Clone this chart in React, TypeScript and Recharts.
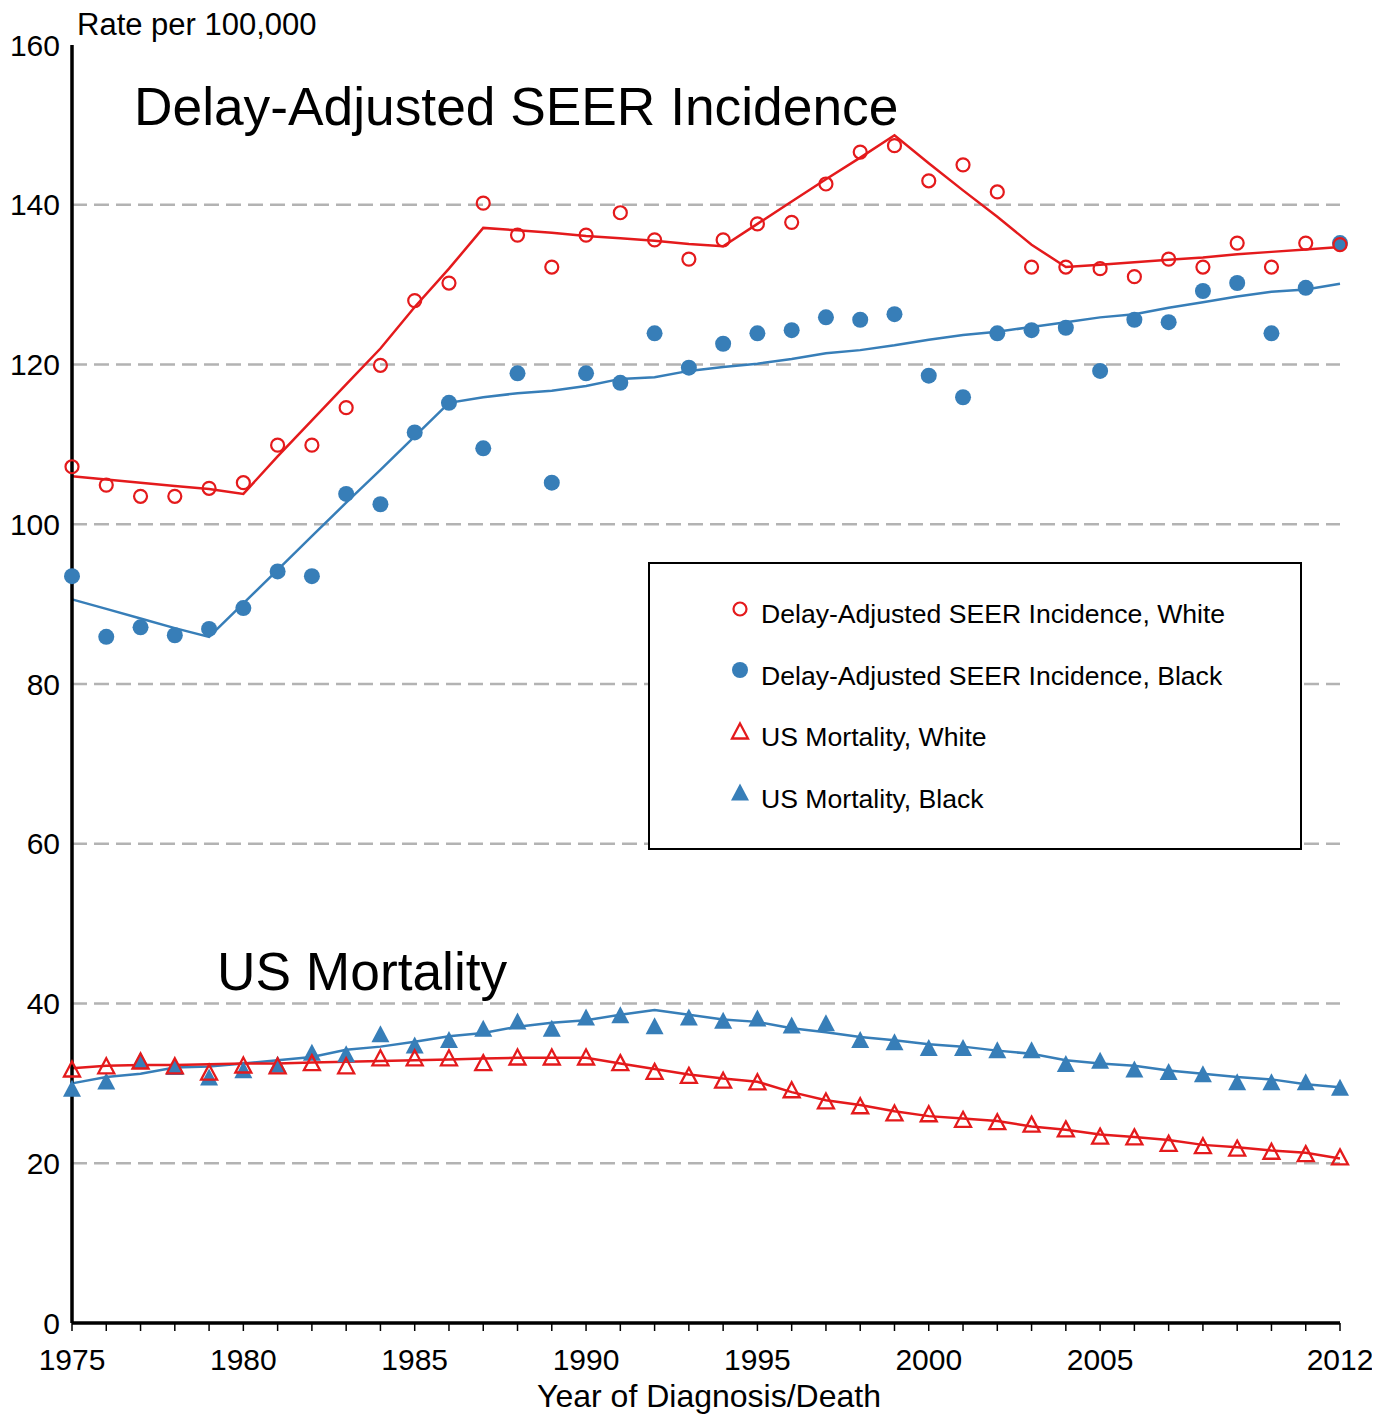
import { ComposedChart, Customized, Legend, Line, ReferenceLine, Scatter, XAxis, YAxis } from "recharts";

const RED = "#e41a1c";
const BLUE = "#377eb8";
const FONT = "'Liberation Sans', Arial, sans-serif";

const years = [
  1975, 1976, 1977, 1978, 1979, 1980, 1981, 1982, 1983, 1984, 1985, 1986, 1987, 1988, 1989, 1990, 1991, 1992, 1993,
  1994, 1995, 1996, 1997, 1998, 1999, 2000, 2001, 2002, 2003, 2004, 2005, 2006, 2007, 2008, 2009, 2010, 2011, 2012,
];
const labelYears = [1975, 1980, 1985, 1990, 1995, 2000, 2005, 2012];
const yTicks = [0, 20, 40, 60, 80, 100, 120, 140, 160];
const gridValues = [20, 40, 60, 80, 100, 120, 140];

// incidence, white
const whiteIncObs = [
  107.2, 104.9, 103.5, 103.5, 104.5, 105.2, 109.9, 109.9, 114.6, 119.9, 128.0, 130.2, 140.2, 136.2, 132.2, 136.2, 139.0,
  135.6, 133.2, 135.6, 137.6, 137.8, 142.6, 146.6, 147.4, 143.0, 145.0, 141.6, 132.2, 132.2, 132.0, 131.0, 133.2, 132.2,
  135.2, 132.2, 135.2, 135.0,
];
const whiteIncFit = [
  106.0, 105.6, 105.2, 104.8, 104.4, 103.8, 108.5, 113.0, 117.5, 122.0, 127.2, 132.0, 137.1, 136.8, 136.5, 136.1, 135.8,
  135.5, 135.1, 134.8, 137.6, 140.4, 143.2, 145.9, 148.7, 145.2, 141.8, 138.5, 135.0, 132.2, 132.5, 132.8, 133.1, 133.4,
  133.8, 134.1, 134.4, 134.7,
];
// incidence, black
const blackIncObs = [
  93.5, 85.9, 87.1, 86.1, 86.9, 89.5, 94.1, 93.5, 103.8, 102.5, 111.5, 115.2, 109.5, 118.9, 105.2, 118.9, 117.7, 123.9,
  119.6, 122.6, 123.9, 124.3, 125.9, 125.6, 126.3, 118.6, 115.9, 123.9, 124.3, 124.6, 119.2, 125.6, 125.3, 129.2, 130.2,
  123.9, 129.6, 135.2,
];
const blackIncFit = [
  90.6, 89.4, 88.2, 87.0, 85.9, 90.1, 94.3, 98.5, 102.7, 106.8, 111.0, 115.2, 115.9, 116.4, 116.7, 117.3, 118.2, 118.4,
  119.2, 119.7, 120.1, 120.7, 121.4, 121.8, 122.4, 123.1, 123.7, 124.1, 124.7, 125.3, 125.9, 126.3, 127.1, 127.8, 128.5,
  129.1, 129.4, 130.1,
];
// mortality, white
const whiteMortObs = [
  31.8, 32.2, 32.8, 32.2, 31.4, 32.3, 32.2, 32.6, 32.2, 33.2, 33.2, 33.2, 32.6, 33.3, 33.3, 33.3, 32.6, 31.5, 31.0, 30.4,
  30.2, 29.2, 27.8, 27.2, 26.3, 26.2, 25.5, 25.2, 24.9, 24.3, 23.4, 23.3, 22.5, 22.2, 21.9, 21.5, 21.2, 20.8,
];
const whiteMortFit = [
  31.9, 32.2, 32.3, 32.3, 32.4, 32.5, 32.5, 32.6, 32.7, 32.8, 32.9, 33.0, 33.1, 33.2, 33.2, 33.2, 32.5, 31.8, 31.1, 30.6,
  30.2, 28.9, 27.9, 27.3, 26.5, 25.9, 25.6, 25.3, 24.6, 24.2, 23.6, 23.3, 22.9, 22.3, 22.0, 21.6, 21.3, 20.6,
];
// mortality, black
const blackMortObs = [
  29.4, 30.3, 32.9, 32.1, 30.8, 31.7, 32.4, 33.9, 33.7, 36.2, 34.8, 35.5, 36.9, 37.8, 36.9, 38.3, 38.6, 37.2, 38.3, 37.9,
  38.2, 37.3, 37.6, 35.5, 35.2, 34.5, 34.5, 34.2, 34.2, 32.5, 32.9, 31.8, 31.5, 31.2, 30.2, 30.2, 30.2, 29.5,
];
const blackMortFit = [
  30.0, 30.8, 31.2, 32.0, 32.1, 32.5, 32.9, 33.3, 34.2, 34.6, 35.2, 35.9, 36.3, 37.1, 37.6, 37.9, 38.6, 39.2, 38.6, 38.0,
  37.7, 36.9, 36.4, 35.8, 35.4, 34.9, 34.6, 34.1, 33.7, 32.9, 32.5, 32.2, 31.6, 31.2, 30.8, 30.5, 29.9, 29.5,
];

const legendItems = [
  { label: "Delay-Adjusted SEER Incidence, White", kind: "openCircle" },
  { label: "Delay-Adjusted SEER Incidence, Black", kind: "dot" },
  { label: "US Mortality, White", kind: "openTri" },
  { label: "US Mortality, Black", kind: "tri" },
];

const data = years.map((year, i) => ({
  year,
  wInc: whiteIncObs[i],
  wIncFit: whiteIncFit[i],
  bInc: blackIncObs[i],
  bIncFit: blackIncFit[i],
  wMort: whiteMortObs[i],
  wMortFit: whiteMortFit[i],
  bMort: blackMortObs[i],
  bMortFit: blackMortFit[i],
}));

function triPath(cx: number, cy: number, w: number, h: number) {
  return `M${cx},${cy - h / 2} L${cx + w / 2},${cy + h / 2} L${cx - w / 2},${cy + h / 2} Z`;
}

function Marker({ kind, cx, cy }: { kind: string; cx: number; cy: number }) {
  if (kind === "openCircle") return <circle cx={cx} cy={cy} r={6.5} fill="none" stroke={RED} strokeWidth={2.2} />;
  if (kind === "dot") return <circle cx={cx} cy={cy} r={8} fill={BLUE} />;
  if (kind === "openTri")
    return <path d={triPath(cx, cy, 16, 15)} fill="none" stroke={RED} strokeWidth={2.3} strokeLinejoin="miter" />;
  return <path d={triPath(cx, cy, 18, 17)} fill={BLUE} />;
}

const shapeOf = (kind: string) => (p: any) => <Marker kind={kind} cx={p.cx} cy={p.cy} />;

function LegendBox() {
  return (
    <svg width={654} height={288} style={{ display: "block" }}>
      <rect x={1} y={1} width={652} height={286} fill="white" stroke="black" strokeWidth={2} />
      {legendItems.map((it, i) => (
        <g key={it.label}>
          <Marker kind={it.kind} cx={92} cy={47 + i * 61} />
          <text x={113} y={61 + i * 61.5} fontFamily={FONT} fontSize={26.6} fill="#000">
            {it.label}
          </text>
        </g>
      ))}
    </svg>
  );
}

function Titles() {
  return (
    <g fontFamily={FONT} fill="#000">
      <text x={69} y={27} fontSize={31}>Rate per 100,000</text>
      <text x={126} y={117} fontSize={53.3}>Delay-Adjusted SEER Incidence</text>
      <text x={209} y={982} fontSize={53.3}>US Mortality</text>
      <text x={701} y={1399} fontSize={32} textAnchor="middle">Year of Diagnosis/Death</text>
    </g>
  );
}

export default function App() {
  return (
    <ComposedChart
      width={1372}
      height={1407}
      data={data}
      margin={{ top: 37, right: 40, left: 0, bottom: 0 }}
      style={{ fontFamily: FONT }}
    >
      <XAxis
        dataKey="year"
        type="number"
        domain={[1975, 2012]}
        ticks={years}
        interval={0}
        height={92}
        tickFormatter={(v: number) => (labelYears.includes(v) ? String(v) : "")}
        tick={{ fill: "#000", fontSize: 30 }}
        tickSize={8}
        tickMargin={18}
        tickLine={{ stroke: "#000", strokeWidth: 1.5 }}
        axisLine={{ stroke: "#000", strokeWidth: 3.5 }}
      />
      <YAxis
        type="number"
        domain={[0, 160]}
        ticks={yTicks}
        width={64}
        tick={{ fill: "#000", fontSize: 30 }}
        tickSize={0}
        tickMargin={12}
        tickLine={false}
        axisLine={{ stroke: "#000", strokeWidth: 3.5 }}
      />
      {gridValues.map((v) => (
        <ReferenceLine key={v} y={v} stroke="#b3b3b3" strokeWidth={2.5} strokeDasharray="15 7" />
      ))}
      <Line dataKey="bIncFit" stroke={BLUE} strokeWidth={2.5} dot={false} type="linear" isAnimationActive={false} />
      <Line dataKey="bMortFit" stroke={BLUE} strokeWidth={2.5} dot={false} type="linear" isAnimationActive={false} />
      <Line dataKey="wIncFit" stroke={RED} strokeWidth={2.5} dot={false} type="linear" isAnimationActive={false} />
      <Line dataKey="wMortFit" stroke={RED} strokeWidth={2.5} dot={false} type="linear" isAnimationActive={false} />
      <Scatter dataKey="bInc" shape={shapeOf("dot")} isAnimationActive={false} />
      <Scatter dataKey="bMort" shape={shapeOf("tri")} isAnimationActive={false} />
      <Scatter dataKey="wInc" shape={shapeOf("openCircle")} isAnimationActive={false} />
      <Scatter dataKey="wMort" shape={shapeOf("openTri")} isAnimationActive={false} />
      <Legend
        layout="vertical"
        align="center"
        verticalAlign="middle"
        content={() => <LegendBox />}
        wrapperStyle={{ left: 640, top: 554, width: 654, height: 288 }}
      />
      <Customized component={Titles} />
    </ComposedChart>
  );
}
